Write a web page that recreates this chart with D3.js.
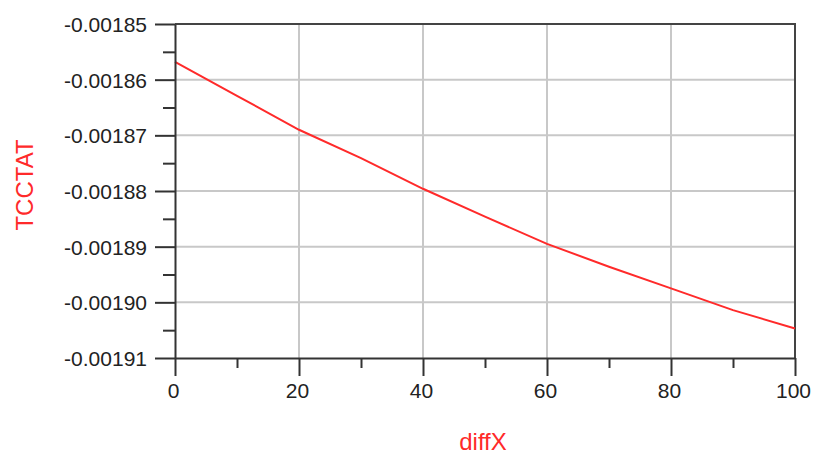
<!DOCTYPE html>
<html>
	<head>
		<style>
			body, html { margin: 0; padding: 0; background: #fff; }
			svg text { font-family: "Liberation Sans", Arial, sans-serif; }
		</style>
	</head>
	<body>
		<svg id="svg" width="813" height="455"></svg>

		<script src="https://d3js.org/d3.v7.min.js"></script>
		<script>
			// values
			const diffX = [0, 10, 20, 30, 40, 50, 60, 70, 80, 90, 100]
			const tcctat = [-0.0018568, -0.0018629, -0.0018690, -0.0018741, -0.0018796,
				-0.0018846, -0.0018895, -0.0018936, -0.0018975, -0.0019014, -0.0019047]

			const xTicks = [0, 20, 40, 60, 80, 100]
			const xMinor = [10, 30, 50, 70, 90]
			const yTicks = [-0.00185, -0.00186, -0.00187, -0.00188, -0.00189, -0.00190, -0.00191]
			const yTickLabels = ['-0.00185', '-0.00186', '-0.00187', '-0.00188', '-0.00189', '-0.00190', '-0.00191']
			const yMinor = [-0.001855, -0.001865, -0.001875, -0.001885, -0.001895, -0.001905]

			const plotLeft = 175, plotRight = 795, plotTop = 24, plotBottom = 358
			const axisColor = '#333'
			const gridColor = '#c8c8c8'
			const red = '#ff2a2a'

			const svg = d3.select('#svg')

			const xscale = d3.scaleLinear().domain([0, 100]).range([plotLeft, plotRight])
			const yscale = d3.scaleLinear().domain([-0.00191, -0.00185]).range([plotBottom, plotTop])

			// grid
			svg.append('g').selectAll('line')
				.data(xTicks.slice(1, -1))
				.join('line')
				.attr('x1', d => xscale(d)).attr('x2', d => xscale(d))
				.attr('y1', plotTop).attr('y2', plotBottom)
				.attr('stroke', gridColor).attr('stroke-width', 2)
			svg.append('g').selectAll('line')
				.data(yTicks.slice(1, -1))
				.join('line')
				.attr('x1', plotLeft).attr('x2', plotRight)
				.attr('y1', d => yscale(d)).attr('y2', d => yscale(d))
				.attr('stroke', gridColor).attr('stroke-width', 2)

			// frame top and right
			svg.append('path')
				.attr('d', `M${plotLeft},${plotTop}H${plotRight}V${plotBottom}`)
				.attr('fill', 'none').attr('stroke', '#444').attr('stroke-width', 2)

			// data line
			const linegen = d3.line()
				.x((d, i) => xscale(diffX[i]))
				.y(d => yscale(d))
			svg.append('path')
				.attr('d', linegen(tcctat))
				.attr('fill', 'none')
				.attr('stroke', red)
				.attr('stroke-width', 2)

			function styleAxis(g) {
				g.select('.domain').attr('stroke', axisColor).attr('stroke-width', 2)
				g.selectAll('.tick line').attr('stroke', axisColor).attr('stroke-width', 2)
				g.selectAll('.tick text').attr('fill', '#222').style('font-size', '21px')
			}

			// y axis
			const yAxis = d3.axisLeft(yscale)
				.tickValues(yTicks)
				.tickFormat((d, i) => yTickLabels[i])
				.tickSize(20).tickSizeOuter(0).tickPadding(8)
			svg.append('g')
				.attr('transform', `translate(${plotLeft},0)`)
				.call(yAxis)
				.call(styleAxis)
				.selectAll('.tick text').attr('dy', '0.36em')
			svg.append('g')
				.attr('transform', `translate(${plotLeft},0)`)
				.call(d3.axisLeft(yscale).tickValues(yMinor).tickFormat('').tickSize(12).tickSizeOuter(0))
				.call(styleAxis)
				.select('.domain').remove()

			// x axis
			const xAxis = d3.axisBottom(xscale)
				.tickValues(xTicks)
				.tickSize(18).tickSizeOuter(0).tickPadding(7)
			svg.append('g')
				.attr('transform', `translate(0,${plotBottom})`)
				.call(xAxis)
				.call(styleAxis)
				.selectAll('.tick text').attr('x', -2)
			svg.append('g')
				.attr('transform', `translate(0,${plotBottom})`)
				.call(d3.axisBottom(xscale).tickValues(xMinor).tickFormat('').tickSize(10).tickSizeOuter(0))
				.call(styleAxis)
				.select('.domain').remove()

			// axis titles
			svg.append('text')
				.attr('x', (plotLeft + plotRight) / 2 - 2)
				.attr('y', 450)
				.attr('text-anchor', 'middle')
				.attr('fill', red)
				.style('font-size', '24px')
				.text('diffX')
			svg.append('text')
				.attr('transform', 'translate(33,185) rotate(-90)')
				.attr('text-anchor', 'middle')
				.attr('fill', red)
				.style('font-size', '24px')
				.text('TCCTAT')
		</script>
	</body>
</html>
